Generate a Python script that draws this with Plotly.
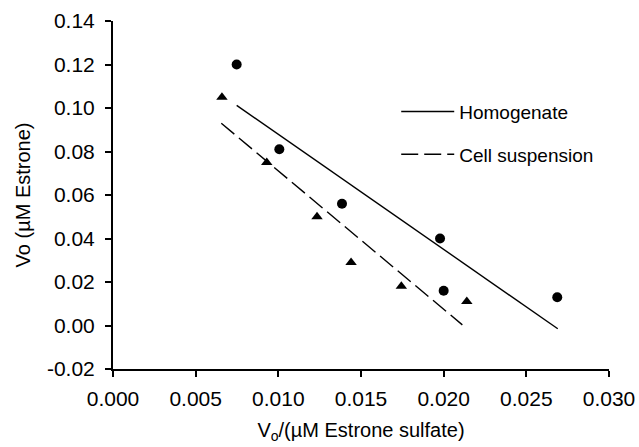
import plotly.graph_objects as go

# Data
homog_x = [0.00748, 0.01006, 0.01385, 0.01978, 0.0200, 0.02687]
homog_y = [0.120, 0.081, 0.056, 0.040, 0.016, 0.013]
cell_x = [0.00659, 0.0093, 0.01234, 0.0144, 0.01744, 0.0214]
cell_y = [0.105, 0.075, 0.050, 0.029, 0.018, 0.011]

# Fitted line endpoints
homog_fit_x = [0.00748, 0.0269]
homog_fit_y = [0.1012, -0.0015]
cell_fit_x = [0.00655, 0.02113]
cell_fit_y = [0.0930, 0.0003]

x_ticks = [0.000, 0.005, 0.010, 0.015, 0.020, 0.025, 0.030]
y_ticks = [-0.02, 0.00, 0.02, 0.04, 0.06, 0.08, 0.10, 0.12, 0.14]

FONT = "Liberation Sans, Arial, sans-serif"

fig = go.Figure()
fig.add_trace(go.Scatter(x=homog_fit_x, y=homog_fit_y, mode="lines", name="Homogenate",
                         line=dict(color="black", width=1.4), legendgroup="a"))
fig.add_trace(go.Scatter(x=cell_fit_x, y=cell_fit_y, mode="lines", name="Cell suspension",
                         line=dict(color="black", width=1.4, dash="17px,6px"), legendgroup="b"))
fig.add_trace(go.Scatter(x=homog_x, y=homog_y, mode="markers", showlegend=False,
                         marker=dict(symbol="circle", size=10, color="black")))
fig.add_trace(go.Scatter(x=cell_x, y=cell_y, mode="markers", showlegend=False,
                         marker=dict(symbol="triangle-up", size=10, color="black")))

fig.update_layout(
    width=639, height=447,
    margin=dict(l=113, r=30, t=21, b=78),
    paper_bgcolor="white", plot_bgcolor="white",
    font=dict(family=FONT, size=19, color="black"),
    showlegend=True,
    legend=dict(x=0.571, y=0.794, xanchor="left", yanchor="top",
                bgcolor="rgba(0,0,0,0)", font=dict(size=19), itemwidth=53,
                traceorder="grouped", tracegroupgap=15),
)
fig.update_xaxes(
    range=[0, 0.030], tickvals=x_ticks, ticktext=[f"{v:.3f}" for v in x_ticks],
    showgrid=False, zeroline=False, showline=True, linecolor="black", linewidth=2,
    ticks="outside", ticklen=6, tickwidth=1.5, tickcolor="black",
    tickfont=dict(size=21), automargin=False, ticklabelstandoff=4,
    title=dict(text="V<sub>o</sub>/(µM Estrone sulfate)", font=dict(size=20), standoff=14),
)
fig.update_yaxes(
    range=[-0.02, 0.14], tickvals=y_ticks, ticktext=[f"{v:.2f}" for v in y_ticks],
    showgrid=False, zeroline=False, showline=True, linecolor="black", linewidth=2,
    ticks="outside", ticklen=6, tickwidth=1.5, tickcolor="black",
    tickfont=dict(size=21), automargin=False, ticklabelstandoff=6,
    title=dict(text="Vo (µM Estrone)", font=dict(size=20), standoff=11),
)

fig.write_html("out.html", config={"displayModeBar": False},
               post_script="document.body.style.margin='0';")
